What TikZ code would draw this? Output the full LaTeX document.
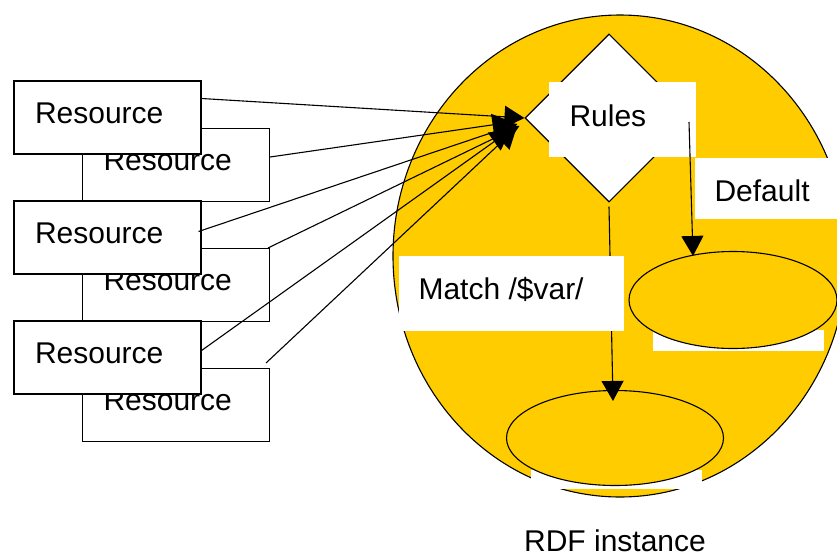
\documentclass[tikz,border=0pt]{standalone}
\usepackage{fontspec}
\setmainfont{Liberation Sans}
\usepackage{tikz}
\usetikzlibrary{positioning,shapes.geometric,arrows.meta}
\definecolor{gold}{RGB}{255,204,0}

\begin{document}
\begin{tikzpicture}[x=1pt,y=-1pt,
    font=\fontsize{30}{36}\selectfont,
    line width=1.1pt,
    res/.style={draw, fill=white, text width=145pt, inner xsep=21pt, inner ysep=0pt,
      minimum height=73pt, text height=21.5pt, text depth=10pt, align=left},
    wbox/.style={fill=white, inner sep=0pt},
    txt/.style={inner sep=0pt},
    blob/.style={ellipse, draw, fill=gold, inner sep=0pt},
    arr/.style={-{Triangle[length=20pt,width=22pt]}}]
    \useasboundingbox (0,0) rectangle (837,557);

    % Nodes
    \node[blob, minimum width=454pt, minimum height=482pt] (rdf) at (620,256) {};
    \node[txt, anchor=base] (rdflabel) at (615,551) {RDF instance};

    \node[wbox, minimum width=171pt, minimum height=21pt] (dfltbase) at (738.5,340.5) {};
    \node[wbox, minimum width=171pt, minimum height=19pt] (instbase) at (616.5,479.5) {};
    \node[blob, minimum width=208pt, minimum height=97pt] (dflt) at (733,300) {};
    \node[blob, minimum width=217pt, minimum height=95pt] (inst) at (615,438) {};

    \node[diamond, draw, fill=white, minimum width=168pt, minimum height=168pt, inner sep=0pt] (rules) at (609,118) {};
    \node[wbox, minimum width=147pt, minimum height=75pt] (rulesbox) at (622.5,119.5) {};
    \node[txt, anchor=base west] (rulestxt) at (569,126) {Rules};

    % Lines
    \draw[arr] ([yshift=-4pt]rules.south) -- ([xshift=-2pt,yshift=-11pt]inst.north);
    \draw[arr] ([xshift=80pt,yshift=-4pt]rules.center) -- ([xshift=-40pt,yshift=-5pt]dflt.north);

    \node[wbox, minimum width=225pt, minimum height=75pt] (matchbox) at (511.5,293.5) {};
    \node[txt, anchor=base west] (matchtxt) at (418,299) {Match /\$var/};
    \node[wbox, minimum width=150pt, minimum height=61pt] (dfltbox) at (770,188.5) {};
    \node[txt, anchor=base west] (dflttxt) at (714,201) {Default};

    % Resources
    \node[res] (b1) at (176,165) {Resource};
    \node[res] (b2) at (176,285) {Resource};
    \node[res] (b3) at (176,405) {Resource};
    \node[res] (a1) at (107.5,117.5) {Resource};
    \node[res] (a2) at (107.5,237.5) {Resource};
    \node[res] (a3) at (107.5,357.5) {Resource};

    \coordinate (hub) at (rules.west);
    \draw[arr] ([yshift=19pt]a1.east) -- (hub);
    \draw[arr] ([yshift=8pt]b1.east) -- ([xshift=-12pt,yshift=-4pt]hub);
    \draw[arr] ([xshift=-3pt,yshift=6pt]a2.east) -- ([xshift=-7pt,yshift=-6pt]hub);
    \draw[arr] ([xshift=-2pt]b2.north east) -- ([xshift=-5pt,yshift=-8pt]hub);
    \draw[arr] ([yshift=7pt]a3.east) -- ([xshift=-14pt,yshift=-12pt]hub);
    \draw[arr] ([xshift=-4pt,yshift=5pt]b3.north east) -- ([xshift=-8pt,yshift=-10pt]hub);
\end{tikzpicture}
\end{document}
